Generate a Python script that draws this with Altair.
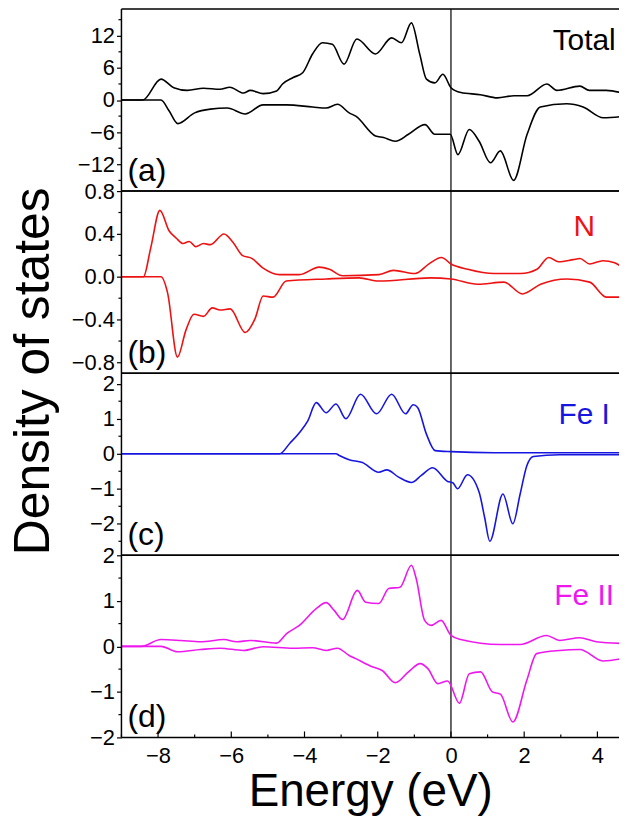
import altair as alt
import pandas as pd

FONT = "Liberation Sans"

# ---------------- data ----------------
TOT_UP_E = [-9.0, -8.42, -7.92, -7.57, -7.2, -6.76, -6.31, -6.04, -5.67, -5.48, -5.13, -4.76, -4.6, -4.31, -4.05,
            -3.78, -3.51, -3.24, -2.92, -2.57, -2.06, -1.62, -1.35, -1.08, -0.85, -0.67, -0.44, -0.22, 0.0, 0.27,
            0.8, 1.27, 1.72, 2.08, 2.62, 2.89, 3.52, 3.78, 4.24, 4.8]
TOT_UP_V = [0, 0, 3.9, 2.3, 1.8, 2.2, 2.0, 2.4, 1.3, 1.8, 1.2, 1.7, 3.0, 4.2, 5.1,
            8.6, 10.7, 10.4, 6.7, 11.4, 8.6, 11.6, 10.7, 14.4, 8.5, 3.9, 3.2, 4.8, 2.3, 1.4,
            1.0, 0.4, 0.8, 0.8, 3.0, 1.8, 2.6, 1.8, 1.8, 1.1]
TOT_DN_E = [-9.0, -7.92, -7.7, -7.46, -7.0, -6.57, -6.11, -5.62, -5.13, -4.49, -3.78, -3.41, -3.1, -2.78,
            -2.6, -2.06, -1.84, -1.52, -1.16, -0.71, -0.44, -0.02, 0.19, 0.5, 0.77, 1.08, 1.35, 1.71, 2.08,
            2.44, 3.16, 3.61, 4.16, 4.8]
TOT_DN_V = [0, 0, -2.0, -4.4, -2.4, -1.7, -1.5, -2.6, -0.9, -0.9, -1.3, -1.5, -0.8, -2.4,
            -3.0, -6.7, -7.0, -7.7, -6.4, -4.6, -6.4, -6.4, -10.2, -5.5, -7.7, -11.7, -9.5, -15.0, -6.4,
            -1.3, -0.7, -1.3, -3.3, -3.0]

N_UP_E = [-9.0, -8.4, -8.2, -7.95, -7.7, -7.5, -7.32, -7.15, -6.97, -6.76, -6.57, -6.2, -5.95, -5.7, -5.43,
          -5.13, -4.68, -4.14, -3.6, -3.32, -2.96, -1.97, -1.57, -0.98, -0.6, -0.26, 0.0, 0.46, 1.18, 1.9,
          2.35, 2.67, 2.94, 3.34, 3.52, 3.79, 4.15, 4.47, 4.8]
N_UP_V = [0, 0, 0.27, 0.62, 0.43, 0.36, 0.31, 0.33, 0.28, 0.31, 0.30, 0.40, 0.32, 0.20, 0.17,
          0.08, 0.02, 0.02, 0.09, 0.07, 0.01, 0.02, 0.06, 0.03, 0.12, 0.18, 0.12, 0.07, 0.03, 0.03,
          0.07, 0.18, 0.14, 0.16, 0.17, 0.12, 0.15, 0.13, 0.06]
N_DN_E = [-9.0, -7.92, -7.74, -7.47, -7.24, -7.02, -6.76, -6.52, -6.3, -6.03, -5.62, -5.35, -5.13, -4.86,
          -4.5, -3.41, -2.51, -1.97, -0.56, 0.0, 0.73, 1.45, 1.95, 2.45, 3.17, 3.79, 4.24, 4.8]
N_DN_V = [0, 0, -0.15, -0.75, -0.5, -0.35, -0.37, -0.29, -0.31, -0.30, -0.52, -0.39, -0.18, -0.19,
          -0.04, -0.02, -0.01, -0.04, -0.01, -0.02, -0.07, -0.05, -0.16, -0.07, -0.02, -0.05, -0.19, -0.19]

FE1_UP_E = [-9.0, -4.68, -4.4, -4.14, -3.91, -3.68, -3.41, -3.14, -2.87, -2.47, -2.03, -1.62, -1.24, -1.03,
            -0.91, -0.67, -0.43, 0.0, 1.18, 4.8]
FE1_UP_V = [0, 0, 0.3, 0.6, 0.94, 1.46, 1.17, 1.42, 1.0, 1.7, 1.14, 1.7, 1.14, 1.4,
            1.32, 0.56, 0.09, 0.06, 0.03, 0.03]
FE1_DN_E = [-9.0, -3.14, -3.05, -2.78, -2.42, -1.97, -1.75, -1.44, -1.08, -0.81, -0.5, -0.09, 0.05, 0.18,
            0.45, 0.77, 0.92, 1.06, 1.42, 1.69, 1.89, 2.07, 2.25, 2.97, 4.8]
FE1_DN_V = [0, 0, -0.05, -0.17, -0.25, -0.53, -0.46, -0.66, -0.82, -0.62, -0.4, -0.79, -0.83, -1.0,
            -0.6, -1.1, -1.82, -2.5, -1.15, -2.0, -1.15, -0.35, -0.08, -0.03, -0.03]

FE2_UP_E = [-9.0, -8.46, -7.92, -7.38, -6.84, -6.2, -5.85, -5.48, -4.76, -4.49, -4.14, -3.68, -3.41, -3.19,
            -2.96, -2.56, -2.33, -1.97, -1.7, -1.39, -1.08, -0.95, -0.72, -0.54, -0.27, 0.0, 0.27, 1.35,
            1.89, 2.61, 2.97, 3.52, 3.97, 4.8]
FE2_UP_V = [0, 0, 0.15, 0.13, 0.1, 0.15, 0.1, 0.13, 0.07, 0.28, 0.46, 0.83, 0.96, 0.79,
            0.59, 1.23, 0.97, 0.94, 1.27, 1.3, 1.78, 1.49, 0.57, 0.46, 0.57, 0.24, 0.15, 0.04,
            0.04, 0.24, 0.13, 0.19, 0.1, 0.06]
FE2_DN_E = [-9.0, -7.92, -7.47, -6.84, -6.3, -5.67, -5.13, -4.31, -3.78, -3.41, -3.1, -2.78, -2.6, -2.15,
            -1.88, -1.52, -1.16, -0.84, -0.63, -0.36, -0.09, 0.23, 0.5, 0.81, 1.13, 1.35, 1.69, 2.07,
            2.34, 2.97, 3.52, 4.15, 4.8]
FE2_DN_V = [0, 0, -0.12, -0.07, -0.04, -0.09, -0.01, -0.04, -0.03, -0.09, -0.04, -0.2, -0.27, -0.45,
            -0.53, -0.8, -0.56, -0.38, -0.49, -0.82, -0.76, -1.25, -0.6, -0.56, -1.0, -1.05, -1.66, -0.75,
            -0.16, -0.09, -0.07, -0.32, -0.25]

NAMES = ["Total", "N", "Fe I", "Fe II"]
TAGS = ["(a)", "(b)", "(c)", "(d)"]
COLORS = ["#000000", "#ee1111", "#1616e0", "#ee18ee"]

Y_DOMAINS = [[-17, 17], [-0.9, 0.8], [-2.9, 2.3], [-2, 2]]
Y_MAJOR = [[-12, -6, 0, 6, 12], [-0.8, -0.4, 0.0, 0.4, 0.8], [-2, -1, 0, 1, 2], [-2, -1, 0, 1, 2]]
Y_MINOR = [[-15, -9, -3, 3, 9, 15], [-0.6, -0.2, 0.2, 0.6], [-2.5, -1.5, -0.5, 0.5, 1.5],
           [-1.5, -0.5, 0.5, 1.5]]
Y_FMT = ["d", ".1f", "d", "d"]
NAME_DY = [41, 45, 51, 50]

X_DOMAIN = [-9, 4.59]
X_MAJOR = [-8, -6, -4, -2, 0, 2, 4]
X_MINOR = [-9, -7, -5, -3, -1, 1, 3]
FERMI = [0]

W = 500
H = 183


def panel(i, up_e, up_v, dn_e, dn_v, bottom):
    color = COLORS[i]
    xscale = alt.Scale(domain=X_DOMAIN, nice=False, zero=False)
    yscale = alt.Scale(domain=Y_DOMAINS[i], nice=False, zero=False)
    if bottom:
        xaxis = alt.Axis(values=X_MAJOR, format="d", ticks=False, domain=False, grid=False,
                         labelFontSize=22, labelFont=FONT, labelColor="black", labelPadding=8,
                         title="Energy (eV)", titleFontSize=46, titleFont=FONT, titleFontWeight="normal",
                         titleColor="black", titlePadding=3)
    else:
        xaxis = None
    yaxis = alt.Axis(values=Y_MAJOR[i], format=Y_FMT[i], ticks=True, tickSize=5, tickColor="black",
                     tickWidth=1.2, domain=False, grid=False, labelFontSize=22, labelFont=FONT,
                     labelColor="black", labelPadding=2, labelOverlap=False, title=None)

    def X(field="E"):
        return alt.X(field + ":Q", scale=xscale, axis=xaxis, title=None if not bottom else "Energy (eV)")

    def Y(field="V"):
        return alt.Y(field + ":Q", scale=yscale, axis=yaxis, title=None)

    up = pd.DataFrame({"E": up_e, "V": up_v})
    dn = pd.DataFrame({"E": dn_e, "V": dn_v})

    up_line = alt.Chart(up).mark_line(color=color, strokeWidth=1.6, interpolate="monotone", clip=True).encode(
        x=X(), y=Y())
    dn_line = alt.Chart(dn).mark_line(color=color, strokeWidth=1.6, interpolate="monotone", clip=True).encode(
        x=X(), y=Y())

    zero = alt.Chart(pd.DataFrame({"E": FERMI, "V": [Y_DOMAINS[i][0]], "V2": [Y_DOMAINS[i][1]]})).mark_rule(
        color="black", strokeWidth=1.2).encode(x=X(), y=Y(), y2="V2:Q")

    minor = alt.Chart(pd.DataFrame({"E": [X_DOMAIN[0]] * len(Y_MINOR[i]), "V": Y_MINOR[i]})).mark_rule(
        color="black", strokeWidth=1.2).encode(x=X(), y=Y(), x2=alt.value(-3))

    one = pd.DataFrame({"d": [0]})
    left = alt.Chart(one).mark_rule(color="black", strokeWidth=1.5).encode(
        x=alt.value(0), y=alt.value(0), y2=alt.value(H))
    top = alt.Chart(one).mark_rule(color="black", strokeWidth=1.5).encode(
        x=alt.value(0), x2=alt.value(W), y=alt.value(0))
    bot = alt.Chart(one).mark_rule(color="black", strokeWidth=1.5).encode(
        x=alt.value(0), x2=alt.value(W), y=alt.value(H))

    name = alt.Chart(pd.DataFrame({"t": [NAMES[i]]})).mark_text(
        font=FONT, fontSize=30, color=color, align="center", baseline="alphabetic").encode(
        text="t:N", x=alt.value(465), y=alt.value(NAME_DY[i]))
    tag = alt.Chart(pd.DataFrame({"t": [TAGS[i]]})).mark_text(
        font=FONT, fontSize=32, color="black", align="left", baseline="alphabetic").encode(
        text="t:N", x=alt.value(6), y=alt.value(H - 10))

    layers = [zero, minor, up_line, dn_line, left, top, bot, name, tag]
    if bottom:
        maj = alt.Chart(pd.DataFrame({"E": X_MAJOR})).mark_rule(color="black", strokeWidth=1.2).encode(
            x=X(), y=alt.value(H), y2=alt.value(H - 6))
        mnr = alt.Chart(pd.DataFrame({"E": X_MINOR})).mark_rule(color="black", strokeWidth=1.2).encode(
            x=X(), y=alt.value(H), y2=alt.value(H - 3))
        layers += [maj, mnr]
    return alt.layer(*layers).properties(width=W, height=H)


panels = [
    panel(0, TOT_UP_E, TOT_UP_V, TOT_DN_E, TOT_DN_V, False),
    panel(1, N_UP_E, N_UP_V, N_DN_E, N_DN_V, False),
    panel(2, FE1_UP_E, FE1_UP_V, FE1_DN_E, FE1_DN_V, False),
    panel(3, FE2_UP_E, FE2_UP_V, FE2_DN_E, FE2_DN_V, True),
]

chart = alt.vconcat(*panels, spacing=0, bounds="flush").resolve_scale(y="independent").properties(
    title=alt.Title("Density of states", orient="left", anchor="middle", fontSize=50, font=FONT,
                    fontWeight="normal", color="black", offset=12, dx=40),
    padding={"left": 1, "top": -3, "right": 0, "bottom": 0},
).configure_view(stroke="transparent")

chart.save("out.html", embed_options={"renderer": "svg", "actions": False})
